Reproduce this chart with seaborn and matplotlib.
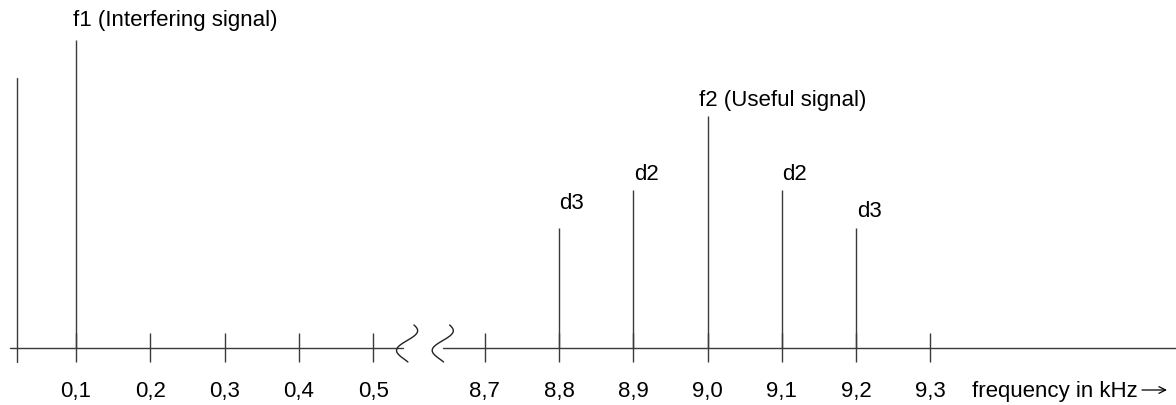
import numpy as np
import matplotlib
matplotlib.use("Agg")
import matplotlib.pyplot as plt
import seaborn as sns

# ---- data ----
tick_labels = ["0,1", "0,2", "0,3", "0,4", "0,5", "8,7", "8,8", "8,9", "9,0", "9,1", "9,2", "9,3"]
tick_pos = [1, 2, 3, 4, 5, 6.5, 7.5, 8.5, 9.5, 10.5, 11.5, 12.5]   # positions on broken axis
line_pos = [1, 7.5, 8.5, 9.5, 10.5, 11.5]            # 0,1  8,8  8,9  9,0  9,1  9,2
line_amp = [308, 120, 158, 232, 158, 120]
line_labels = ["f1 (Interfering signal)", "d3", "d2", "f2 (Useful signal)", "d2", "d3"]
label_dx = [-3, 0, 1, -9, 0, 1]          # pixel offsets of labels
label_dy = [14, 19, 10, 10, 10, 11]
yaxis_top = 270
break_pos = [5.49, 5.97]
xlabel = "frequency in kHz"

# ---- style ----
sns.set_theme(style="white")
plt.rcParams["font.family"] = ["Liberation Sans", "DejaVu Sans"]

W, H = 1176, 405
PX = 74.3  # pixels per position unit
FS = 16
def px2p(x):
    return 1 + (x - 76) / PX

fig = plt.figure(figsize=(W / 100, H / 100), dpi=100)
ax = fig.add_axes([0, 0, 1, 1])
ax.set_xlim(px2p(0), px2p(W))
ax.set_ylim(-57, 348)
ax.axis("off")

lc = "#3a3a3a"
lw = 1.0

# horizontal axis (broken)
ax.plot([px2p(10), px2p(403)], [0, 0], color=lc, lw=lw)
ax.plot([px2p(443), px2p(W + 5)], [0, 0], color=lc, lw=lw)

# break squiggles
t = np.linspace(0, 1, 60)
for bp in break_pos:
    xs = bp + (9 * np.sin(2 * np.pi * t + 0.5) - 6 * t) / PX
    ys = 23 - 37 * t
    ax.plot(xs, ys, color="#222222", lw=lw)

# vertical axis
ax.plot([px2p(17), px2p(17)], [-14, yaxis_top], color=lc, lw=lw)

# ticks
ax.vlines(tick_pos, -14, 15, color=lc, lw=lw)
for p, lab in zip(tick_pos, tick_labels):
    ax.text(p, -49, lab, ha="center", va="baseline", fontsize=FS, color="black")

# spectral lines
ax.vlines(line_pos, 0, line_amp, color=lc, lw=lw)
for p, a, lab, dx, dy in zip(line_pos, line_amp, line_labels, label_dx, label_dy):
    ax.text(p + dx / PX, a + dy, lab, ha="left", va="baseline", fontsize=FS, color="black")

# axis label with arrow
ax.text(px2p(972), -49, xlabel, ha="left", va="baseline", fontsize=FS, color="black")
ax.annotate("", xy=(px2p(1167), -42), xytext=(px2p(1142), -42),
            arrowprops=dict(arrowstyle="->", color="black", lw=0.9, shrinkA=0, shrinkB=0,
                            mutation_scale=12))

fig.savefig("out.png", dpi=100)
